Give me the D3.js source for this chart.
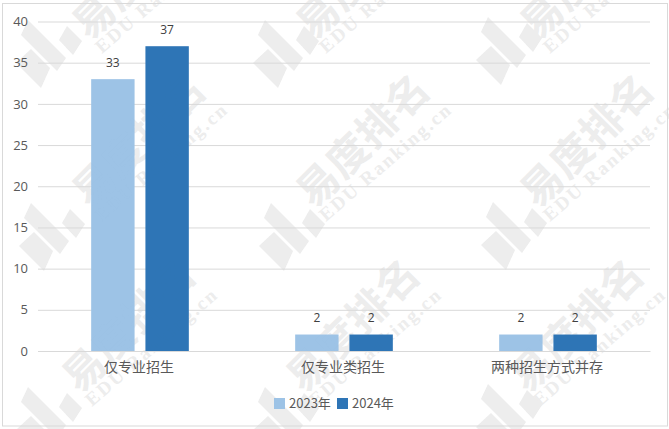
<!DOCTYPE html>
<html>
<head>
<meta charset="utf-8">
<script src="https://cdn.jsdelivr.net/npm/d3@7/dist/d3.min.js"></script>
<style>
html,body{margin:0;padding:0;background:#fff;overflow:hidden}
svg{display:block}
text{font-family:"Noto Sans CJK SC","Noto Sans",sans-serif}
</style>
</head>
<body>
<svg id="c" width="669" height="429"></svg>
<script>
const categories = ["仅专业招生", "仅专业类招生", "两种招生方式并存"];
const seriesNames = ["2023年", "2024年"];
const values2023 = [33, 2, 2];
const values2024 = [37, 2, 2];
const yTicks = [0, 5, 10, 15, 20, 25, 30, 35, 40];
const seriesColors = ["#9DC3E6", "#2E75B6"];

const svg = d3.select("#c");
const W = 669, H = 429;
const plot = {l: 38, r: 650, t: 21.5, b: 351};

const x0 = d3.scaleBand().domain(categories).range([plot.l, plot.r]);
const x1 = d3.scaleBand().domain(seriesNames).range([0, x0.bandwidth()]).paddingInner(0.2).paddingOuter(0.98);
const y = d3.scaleLinear().domain([0, 40]).range([plot.b, plot.t]);

svg.append("rect").attr("width", W).attr("height", H).attr("fill", "#fff");

/* watermark, beneath everything */
const wmColor = "#ededed";
const logoShapes = [
  [[-24,-33],[14,5],[5,18],[-31,-18]],
  [[-21,-4],[-2,15],[-11,35],[-36,10]],
  [[15,-27],[30,-12],[21,2],[7,-13]]
];
const logoSpots = [[52,53],[289,53],[512,50],[55,236],[295,236],[517,235],[52,420],[289,420],[512,417]];
const nameSpots = [[139,-28],[363,-28],[587,-28],[139,140],[363,140],[587,140],[129,325],[353,325],[577,325]];
function drawWatermark(g) {
  logoSpots.forEach(([cx, cy]) => {
    g.append("g").attr("transform", `translate(${cx},${cy})`)
      .selectAll("polygon").data(logoShapes).join("polygon")
      .attr("points", d => d.join(" ")).attr("fill", wmColor);
  });
  nameSpots.forEach(([cx, cy]) => {
    const t = g.append("g").attr("transform", `translate(${cx},${cy})`);
    t.append("text").attr("transform", "rotate(-45)").attr("text-anchor", "middle").attr("dy", "0.36em")
      .attr("font-size", 41).attr("font-weight", 700).attr("fill", wmColor)
      .style("letter-spacing", "1px").text("易度排名");
    t.append("text").attr("transform", "translate(23,22) rotate(-41)").attr("text-anchor", "middle").attr("y", 6)
      .attr("font-size", 19).attr("font-weight", 700).attr("fill", wmColor)
      .style("font-family", '"Liberation Serif",serif').style("letter-spacing", "2.2px")
      .text("EDU Ranking.cn");
  });
}
drawWatermark(svg.append("g"));

/* chart border */
svg.append("rect").attr("x", 2.5).attr("y", 3.5).attr("width", 665).attr("height", 422.5)
  .attr("fill", "none").attr("stroke", "#d9d9d9");

/* grid + y axis */
const yAxis = d3.axisLeft(y).tickValues(yTicks).tickSize(plot.l - plot.r).tickPadding(13);
const gy = svg.append("g").attr("transform", `translate(${plot.l},0)`).call(yAxis);
gy.select(".domain").remove();
gy.selectAll("line").attr("stroke", "#d9d9d9");
gy.selectAll("text").attr("font-size", 13).attr("fill", "#595959")
  .style("font-family", '"Open Sans","Noto Sans",sans-serif').attr("x", -10);

/* bars */
const seriesData = [values2023, values2024];
const groups = svg.append("g").selectAll("g").data(seriesNames).join("g");
groups.each(function(name, si) {
  const g = d3.select(this);
  g.selectAll("rect").data(categories).join("rect")
    .attr("x", c => x0(c) + x1(name))
    .attr("y", (c, i) => y(seriesData[si][i]))
    .attr("width", x1.bandwidth())
    .attr("height", (c, i) => y(0) - y(seriesData[si][i]))
    .attr("fill", seriesColors[si]);
  g.selectAll("text").data(categories).join("text")
    .attr("x", c => x0(c) + x1(name) + x1.bandwidth() / 2)
    .attr("y", (c, i) => y(seriesData[si][i]) - 16.5)
    .attr("dy", "0.36em").attr("text-anchor", "middle")
    .attr("font-size", 12).attr("fill", "#404040")
    .style("font-family", '"Open Sans","Noto Sans",sans-serif')
    .text((c, i) => seriesData[si][i]);
});

/* category labels */
const gx = svg.append("g").attr("transform", `translate(0,${plot.b})`)
  .call(d3.axisBottom(x0).tickSize(0).tickPadding(11));
gx.select(".domain").attr("stroke", "#d9d9d9");
gx.selectAll("text").attr("font-size", 14).attr("fill", "#595959").attr("x", -1);

/* legend */
const legendX = [274, 337];
const lg = svg.append("g").selectAll("g").data(seriesNames).join("g")
  .attr("transform", (d, i) => `translate(${legendX[i]},398)`);
lg.append("rect").attr("width", 11).attr("height", 11).attr("fill", (d, i) => seriesColors[i]);
lg.append("text").attr("x", 15).attr("y", 5.5).attr("dy", "0.36em")
  .attr("font-size", 13).attr("fill", "#595959").text(d => d);

/* faint watermark showing through marks */
const over = svg.append("g").attr("opacity", 0.05).style("mix-blend-mode", "multiply");
drawWatermark(over);
</script>
</body>
</html>
